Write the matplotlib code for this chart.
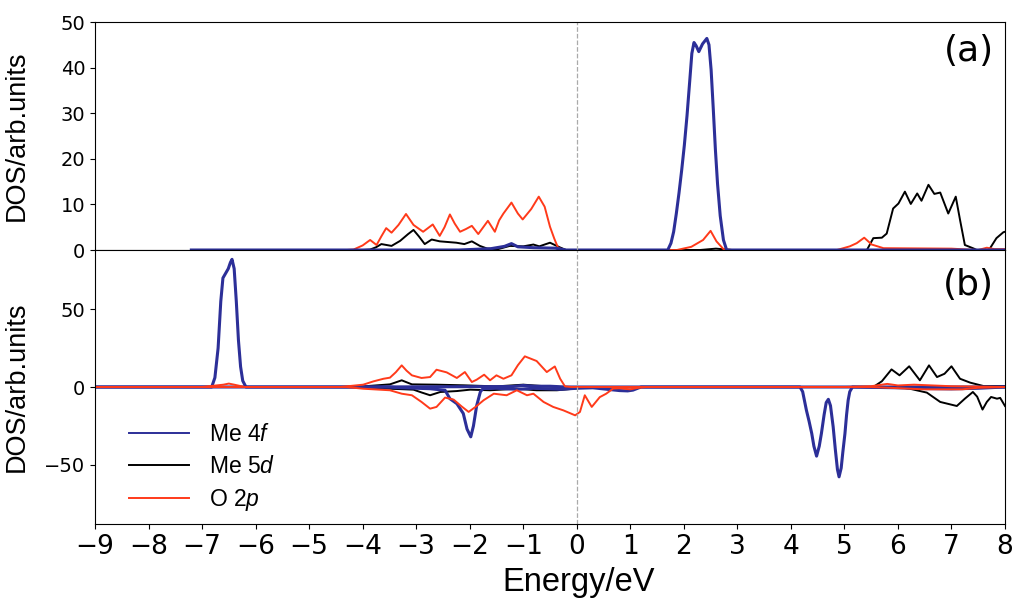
import matplotlib
matplotlib.use("Agg")
import matplotlib.pyplot as plt

# colours
c_f = '#2c2f98'
c_d = 'black'
c_p = '#ff3a1a'

# ---- panel (a) : spin up ----
a_f_e = [-7.2, -2.2, -1.6, -1.35, -1.22, -1.1, -0.8, -0.4, -0.2, 1.6, 1.70, 1.76, 1.81, 1.86,
         1.91, 1.96, 2.01, 2.06, 2.11, 2.15, 2.19, 2.23, 2.28, 2.35, 2.43, 2.47, 2.51, 2.55,
         2.59, 2.63, 2.68, 2.74, 2.80, 8.0]
a_f_v = [0, 0, 0.3, 0.8, 1.4, 0.7, 0.5, 0.4, 0, 0, 0, 1.5, 4.0, 8.0,
         12.5, 17.5, 23.0, 29.5, 37.0, 43.1, 45.5, 44.8, 43.5, 45.2, 46.4, 45.0, 39.5, 31.0,
         22.0, 14.5, 7.5, 2.2, 0, 0]

a_p_e = [-7.2, -4.3, -4.17, -4.0, -3.86, -3.74, -3.65, -3.56, -3.46, -3.33, -3.19, -3.05,
         -2.87, -2.69, -2.56, -2.47, -2.37, -2.28, -2.18, -2.07, -1.96, -1.84, -1.66, -1.53,
         -1.45, -1.37, -1.22, -1.1, -1.01, -0.85, -0.71, -0.6, -0.5, -0.42, -0.35, -0.25,
         1.87, 2.14, 2.36, 2.50, 2.61, 2.74, 2.9, 4.86, 5.1, 5.23, 5.37, 5.51, 5.73, 7.0,
         7.3, 7.5, 7.66, 7.8, 8.0]
a_p_v = [0, 0, 0.1, 1.0, 2.2, 1.1, 3.0, 4.8, 3.8, 5.5, 7.9, 5.5,
         4.0, 5.6, 3.1, 5.0, 7.8, 5.8, 4.0, 4.6, 5.3, 3.5, 6.4, 4.0,
         6.5, 8.0, 10.4, 8.0, 6.7, 9.0, 11.7, 9.5, 5.1, 2.5, 0.5, 0,
         0, 0.7, 2.2, 4.2, 1.9, 0.2, 0, 0, 0.8, 1.5, 2.7, 1.2, 0.4, 0.3,
         0.1, 0, 0.5, 0.2, 0.2]

a_d_e = [-7.2, -4.0, -3.86, -3.75, -3.65, -3.46, -3.3, -3.15, -3.05, -2.95, -2.84, -2.71,
         -2.56, -2.25, -2.1, -1.96, -1.81, -1.67, -1.5, -1.25, -1.0, -0.81, -0.70, -0.50,
         -0.32, -0.20, 2.3, 2.6, 2.9, 5.3, 5.42, 5.54, 5.70, 5.79, 5.91, 6.01, 6.13, 6.24,
         6.36, 6.44, 6.57, 6.68, 6.79, 6.94, 7.08, 7.16, 7.25, 7.42, 7.47, 7.7, 7.84, 7.97, 8.0]
a_d_v = [0, 0, 0.1, 0.6, 1.3, 0.9, 2.0, 3.5, 4.4, 3.0, 1.3, 2.3,
         1.9, 1.6, 1.3, 1.9, 0.9, 0.3, 0.1, 0.9, 0.8, 1.2, 0.8, 1.6,
         0.6, 0, 0, 0.3, 0, 0, 0, 2.6, 2.7, 3.6, 9.1, 10.2, 12.8, 10.1,
         12.4, 10.8, 14.3, 12.3, 12.6, 8.0, 11.7, 6.6, 1.1, 0.3, 0, 0, 2.6, 3.9, 4.0]

# ---- panel (b) : spin up (positive) and spin down (negative) ----
b_f_up_e = [-9, -6.82, -6.76, -6.70, -6.65, -6.61, -6.56, -6.51, -6.47, -6.44, -6.40, -6.36,
            -6.32, -6.28, -6.24, -6.18, -4.0, -1.2, -1.0, -0.8, -0.5, -0.2, 8.0]
b_f_up_v = [0, 0, 6, 25, 55, 70, 73, 76, 80, 82, 76, 55,
            30, 13, 4, 0, 0, 0.3, 1.0, 0.5, 0.5, 0, 0]

b_f_dn_e = [-9, -3.5, -3.36, -2.74, -2.46, -2.37, -2.24, -2.12, -2.05, -1.98, -1.93, -1.87,
            -1.80, -1.75, -1.5, -1.1, -0.8, -0.3, 0, 0.3, 0.8, 0.95, 1.05, 1.2, 4.17, 4.22,
            4.29, 4.34, 4.39, 4.43, 4.48, 4.53, 4.57, 4.62, 4.66, 4.70, 4.74, 4.79, 4.83,
            4.87, 4.90, 4.94, 4.97, 5.01, 5.04, 5.07, 5.10, 5.15, 6.0, 6.5, 7.0, 7.5, 8.0]
b_f_dn_v = [0, 0, -0.4, -1.1, -2.1, -7.5, -10.7, -17, -27, -32, -25, -12,
            -3, -1, -0.8, -1.5, -0.8, -1.5, -0.8, -0.5, -2.3, -2.5, -2.0, 0, 0, -3,
            -14.9, -22, -29.9, -38, -44.4, -38, -29.9, -18, -10, -7.9, -12, -25.6, -40,
            -53, -57.7, -52, -42, -29.9, -18, -8.5, -3, 0, -0.5, -1.0, -1.2, -0.8, 0]

b_p_up_e = [-9, -7.0, -6.6, -6.5, -6.4, -6.2, -4.42, -3.99, -3.80, -3.61, -3.49, -3.38,
            -3.27, -3.18, -3.08, -2.90, -2.74, -2.62, -2.43, -2.24, -2.09, -1.96, -1.87,
            -1.73, -1.62, -1.50, -1.37, -1.22, -1.10, -0.97, -0.75, -0.56, -0.41, -0.31,
            -0.22, -0.1, 5.0, 5.5, 5.8, 6.0, 6.3, 7.0, 8.0]
b_p_up_v = [0, 0, 1.5, 2.2, 1.5, 0, 0, 1.5, 3.6, 5.3, 6.0, 9.5,
            13.9, 10.5, 7.5, 5.8, 6.4, 11.1, 9.4, 5.8, 9.6, 3.2, 4.7,
            7.9, 4.3, 7.5, 5.3, 7.5, 14, 19.7, 16.7, 9.6, 13.2, 5.3,
            0.4, 0, 0, 0.5, 2.0, 1.0, 1.5, 0.5, 0]

b_p_dn_e = [-9, -4.3, -3.99, -3.49, -3.27, -3.08, -2.90, -2.74, -2.62, -2.46, -2.30, -2.15,
            -2.02, -1.88, -1.74, -1.55, -1.31, -1.12, -0.93, -0.81, -0.62, -0.44, -0.25,
            -0.03, 0.06, 0.15, 0.28, 0.43, 0.55, 0.68, 0.8, 1.0, 1.15, 1.3, 5.5, 6.5, 7.2,
            7.5, 8.0]
b_p_dn_v = [0, 0, -1.1, -2.1, -4.3, -5.3, -9.6, -13.9, -12.8, -6.8, -8.1, -12.5,
            -16.0, -12.5, -8.5, -4.3, -5.3, -2.1, -5.3, -4.3, -9.6, -12.8, -15.0,
            -18.2, -16.0, -5.3, -12.8, -6.5, -4.3, -1.0, -0.8, -1.5, -0.5, 0, 0, -1.5, -1.5,
            -0.5, 0]

b_d_up_e = [-9, -4.3, -3.99, -3.49, -3.27, -3.08, -2.62, -2.12, -1.50, -1.00, -0.56, -0.3,
            5.54, 5.70, 5.88, 6.03, 6.21, 6.41, 6.58, 6.73, 6.87, 7.00, 7.16, 7.35, 7.60, 8.0]
b_d_up_v = [0, 0, 0.4, 1.7, 4.3, 1.7, 1.5, 1.1, 0.4, 1.5, 0.4, 0,
            0, 3.7, 11.3, 7.5, 13.3, 4.3, 13.9, 6.4, 8.5, 13.3, 5.3, 2.8, 0.6, 0.6]

b_d_dn_e = [-9, -4.0, -3.49, -3.05, -2.90, -2.74, -2.55, -2.24, -1.99, -1.62, -1.12, -0.75,
            -0.37, -0.12, 0.13, 0.4, 6.0, 6.22, 6.54, 6.79, 7.10, 7.25, 7.40, 7.48, 7.58,
            7.66, 7.74, 7.85, 7.91, 8.0]
b_d_dn_v = [0, 0, -1.1, -1.7, -3.5, -5.3, -3.2, -2.6, -1.7, -2.1, -1.1, -2.1,
            -2.1, -1.3, -0.4, 0, 0, -1.1, -3.6, -9.6, -12.2, -7.5, -3.2, -6.2, -14.5,
            -9.6, -6.4, -7.5, -7.0, -12.2]

xticks = list(range(-9, 9))

plt.rcParams['mathtext.fontset'] = 'custom'
plt.rcParams['mathtext.rm'] = 'Liberation Sans'
plt.rcParams['mathtext.it'] = 'Liberation Sans:italic'

fig = plt.figure(figsize=(10.17, 6.03), dpi=100)
ax1 = fig.add_axes([0.0934, 0.5854, 0.8948, 0.3781])
ax2 = fig.add_axes([0.0934, 0.131, 0.8948, 0.4544])

lw_f, lw_o = 2.2, 1.4

# panel (a)
ax1.plot(a_d_e, a_d_v, color=c_d, lw=lw_o)
ax1.plot(a_p_e, a_p_v, color=c_p, lw=lw_o)
ax1.plot(a_f_e, a_f_v, color=c_f, lw=lw_f)
ax1.axvline(0, color='#aaaaaa', ls='--', lw=0.9)
ax1.set_xlim(-9, 8)
ax1.set_ylim(0, 50)
ax1.set_yticks([0, 10, 20, 30, 40, 50])
ax1.set_xticks(xticks)
ax1.tick_params(axis='x', labelbottom=False, length=0)
ax1.tick_params(axis='y', labelsize=14)
ax1.set_ylabel('DOS/arb.units', fontsize=19.5, family='Liberation Sans')
ax1.text(0.988, 0.875, '(a)', transform=ax1.transAxes, ha='right', va='center', fontsize=26)

# panel (b)
ax2.plot(b_d_up_e, b_d_up_v, color=c_d, lw=lw_o)
ax2.plot(b_d_dn_e, b_d_dn_v, color=c_d, lw=lw_o)
ax2.plot(b_f_up_e, b_f_up_v, color=c_f, lw=lw_f)
ax2.plot(b_f_dn_e, b_f_dn_v, color=c_f, lw=lw_f)
ax2.plot(b_p_up_e, b_p_up_v, color=c_p, lw=lw_o)
ax2.plot(b_p_dn_e, b_p_dn_v, color=c_p, lw=lw_o)
ax2.axvline(0, color='#aaaaaa', ls='--', lw=0.9)
ax2.set_xlim(-9, 8)
ax2.set_ylim(-88, 88)
ax2.set_yticks([-50, 0, 50])
ax2.set_xticks(xticks)
ax2.tick_params(axis='x', labelsize=19)
ax2.tick_params(axis='y', labelsize=14)
ax2.set_ylabel('DOS/arb.units', fontsize=19.5, family='Liberation Sans')
ax2.set_xlabel('Energy/eV', fontsize=23.5, family='Liberation Sans')
ax2.xaxis.label.set_verticalalignment('center')
ax2.xaxis.set_label_coords(0.532, -0.215)
ax2.text(0.988, 0.872, '(b)', transform=ax2.transAxes, ha='right', va='center', fontsize=26)

# legend handles
h_f, = ax2.plot([], [], color=c_f, lw=1.4)
h_d, = ax2.plot([], [], color=c_d, lw=1.4)
h_p, = ax2.plot([], [], color=c_p, lw=1.4)
ax2.legend([h_f, h_d, h_p], ['Me 4$f$', 'Me 5$d$', 'O 2$p$'], loc='lower left',
           frameon=False, prop={'family': 'Liberation Sans', 'size': 16.5},
           handlelength=2.6, handletextpad=0.9, labelspacing=0.4,
           bbox_to_anchor=(0.015, -0.036))

ax1.yaxis.set_label_coords(-0.072, 0.5)
ax2.yaxis.set_label_coords(-0.072, 0.5)

fig.savefig('out.png', dpi=100)
